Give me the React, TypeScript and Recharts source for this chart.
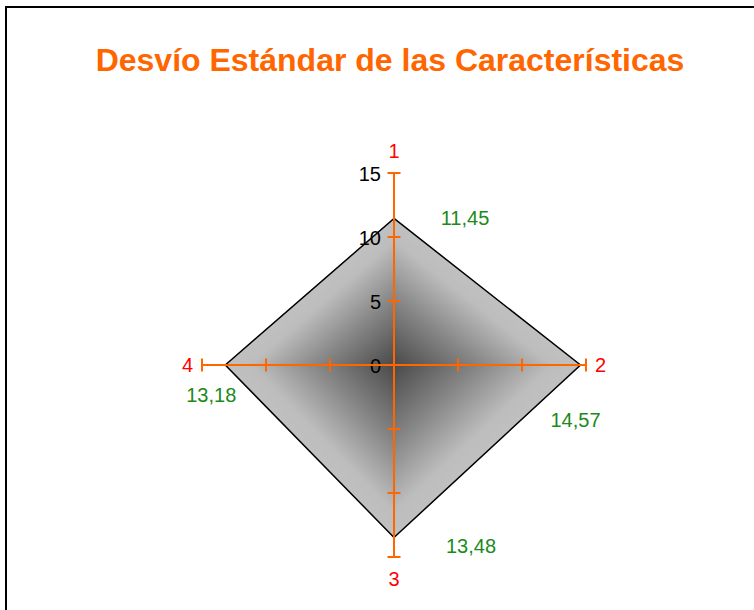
import { RadarChart, Radar, PolarAngleAxis, PolarRadiusAxis } from "recharts";

const categories = ["1", "2", "3", "4"];
const values = [11.45, 14.57, 13.48, 13.18];
const radiusTicks = [0, 5, 10, 15];

const data = categories.map((c, i) => ({ name: c, value: values[i] }));

const ORANGE = "#FF6600";
const FONT = "Liberation Sans, Arial, sans-serif";
const CX = 394;
const CY = 365;
const R = 192;

// where the green value label sits relative to each vertex
const labelOffsets = [
  [71, 0],
  [-5, 55],
  [77, 8],
  [-14, 30],
];

const fmt = (v: number) => v.toFixed(2).replace(".", ",");

function AngleTick(props: any) {
  const { x, y, payload } = props;
  const dx = x - CX;
  const dy = y - CY;
  const len = Math.sqrt(dx * dx + dy * dy) || 1;
  const ux = dx / len;
  const uy = dy / len;
  const horizontal = Math.abs(ux) > 0.5;
  const r = horizontal ? 201 : 214;
  return (
    <text
      x={CX + ux * r}
      y={CY + uy * r}
      fill="#FF0000"
      fontSize={20}
      fontFamily={FONT}
      textAnchor={horizontal ? (ux > 0 ? "start" : "end") : "middle"}
      dominantBaseline="central"
    >
      {payload.value}
    </text>
  );
}

function makeRadiusTick(vertical: boolean, showText: boolean) {
  return (props: any) => {
    const { x, y, payload } = props;
    return (
      <g>
        {payload.value !== 0 &&
          (vertical ? (
            <line x1={x - 6.5} x2={x + 6.5} y1={y} y2={y} stroke={ORANGE} strokeWidth={2} />
          ) : (
            <line x1={x} x2={x} y1={y - 6.5} y2={y + 6.5} stroke={ORANGE} strokeWidth={2} />
          ))}
        {showText && (
          <text
            x={x - 13}
            y={y + 1}
            fill="#000"
            fontSize={20}
            fontFamily={FONT}
            textAnchor="end"
            dominantBaseline="central"
          >
            {payload.value}
          </text>
        )}
      </g>
    );
  };
}

function ValueDot(props: any) {
  const { cx, cy, index, payload } = props;
  const off = labelOffsets[index] || [0, 0];
  return (
    <text
      key={`v-${index}`}
      x={cx + off[0]}
      y={cy + off[1]}
      fill="#1A8A1A"
      fontSize={20}
      fontFamily={FONT}
      textAnchor="middle"
      dominantBaseline="central"
    >
      {fmt(payload.value)}
    </text>
  );
}

// polygon filled triangle by triangle, each shaded from the centre out to its edge
function ShadedPolygon(props: any) {
  const pts: any[] = props.points || [];
  if (!pts.length) return null;
  const cx = pts[0].cx;
  const cy = pts[0].cy;
  const tris = pts.map((p, i) => {
    const q = pts[(i + 1) % pts.length];
    const ex = q.x - p.x;
    const ey = q.y - p.y;
    const t = ((cx - p.x) * ex + (cy - p.y) * ey) / (ex * ex + ey * ey);
    const fx = p.x + t * ex;
    const fy = p.y + t * ey;
    return { p, q, fx, fy, id: `tri-grad-${i}` };
  });
  const outline = pts.map((p, i) => `${i ? "L" : "M"}${p.x},${p.y}`).join("") + "Z";
  return (
    <g>
      <defs>
        {tris.map((t) => (
          <linearGradient key={t.id} id={t.id} gradientUnits="userSpaceOnUse" x1={cx} y1={cy} x2={t.fx} y2={t.fy}>
            <stop offset="0" stopColor="#4a4a4a" />
            <stop offset="0.45" stopColor="#858585" />
            <stop offset="0.85" stopColor="#bdbdbd" />
            <stop offset="1" stopColor="#c0c0c0" />
          </linearGradient>
        ))}
      </defs>
      <path d={outline} fill="#9a9a9a" stroke="none" />
      {tris.map((t) => (
        <path
          key={t.id}
          d={`M${cx},${cy}L${t.p.x},${t.p.y}L${t.q.x},${t.q.y}Z`}
          fill={`url(#${t.id})`}
          stroke={`url(#${t.id})`}
          strokeWidth={0.5}
        />
      ))}
      <path d={outline} fill="none" stroke="#000" strokeWidth={1.5} />
    </g>
  );
}

const axes = [
  { id: "a1", angle: 90, vertical: true, text: true },
  { id: "a2", angle: 0, vertical: false, text: false },
  { id: "a3", angle: -90, vertical: true, text: false },
  { id: "a4", angle: 180, vertical: false, text: false },
];

export default function App() {
  return (
    <div
      style={{
        position: "fixed",
        left: 0,
        top: 0,
        width: 754,
        height: 610,
        overflow: "hidden",
        background: "#fff",
      }}
    >
      <div
        style={{
          position: "absolute",
          left: 5,
          top: 6,
          width: 800,
          height: 700,
          border: "2px solid #000",
        }}
      />
      <div
        style={{
          position: "absolute",
          left: 0,
          top: 40,
          width: 780,
          textAlign: "center",
          color: ORANGE,
          fontFamily: FONT,
          fontWeight: "bold",
          fontSize: 32,
          lineHeight: "40px",
        }}
      >
        Desvío Estándar de las Características
      </div>
      <div style={{ position: "absolute", left: 0, top: 0 }}>
        <RadarChart width={754} height={610} data={data} cx={CX} cy={CY} outerRadius={R}>
          <PolarAngleAxis dataKey="name" axisLine={false} tickLine={false} tick={<AngleTick />} />
          {axes.slice(1).map((a) => (
            <Radar
              key={`hidden-${a.id}`}
              dataKey="value"
              radiusAxisId={a.id}
              stroke="none"
              fill="none"
              dot={false}
              isAnimationActive={false}
            />
          ))}
          <Radar
            dataKey="value"
            radiusAxisId="a1"
            stroke="#000"
            fill="#c0c0c0"
            shape={ShadedPolygon}
            dot={ValueDot}
            isAnimationActive={false}
          />
          {axes.map((a) => (
            <PolarRadiusAxis
              key={a.id}
              radiusAxisId={a.id}
              angle={a.angle}
              domain={[0, 15]}
              ticks={radiusTicks}
              tickCount={4}
              axisLine={{ stroke: ORANGE, strokeWidth: 2 }}
              stroke={ORANGE}
              tick={makeRadiusTick(a.vertical, a.text)}
            />
          ))}
        </RadarChart>
      </div>
    </div>
  );
}
